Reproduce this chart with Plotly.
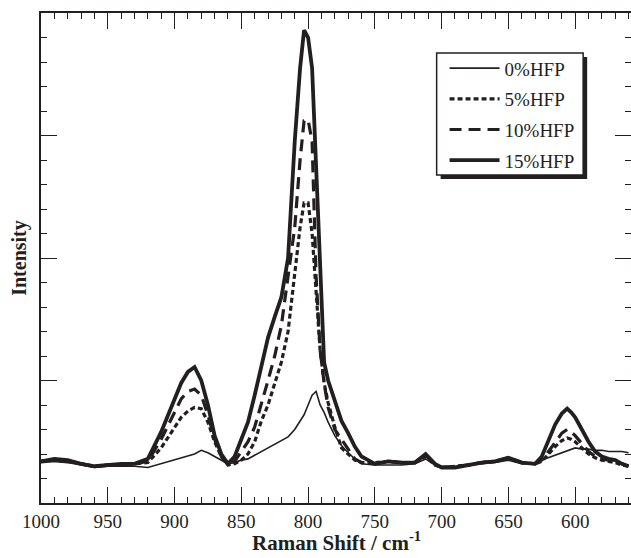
import plotly.graph_objects as go

# Raman shift grid (cm^-1)
shift = [1000, 990, 980, 970, 960, 950, 940, 930, 920, 910, 900, 895, 890, 885, 880,
         875, 870, 865, 860, 855, 850, 845, 840, 835, 830, 825, 820, 815, 810, 806,
         803, 800, 797, 794, 791, 788, 785, 780, 775, 770, 765, 760, 750, 740, 730,
         720, 712, 705, 700, 690, 680, 670, 660, 650, 640, 630, 625, 620, 615, 610,
         606, 603, 600, 595, 590, 585, 580, 575, 570, 565, 560]

hfp0 = [0.33, 0.34, 0.33, 0.31, 0.29, 0.30, 0.30, 0.30, 0.29, 0.32, 0.35, 0.37, 0.38, 0.40, 0.43,
        0.41, 0.38, 0.35, 0.32, 0.33, 0.35, 0.36, 0.39, 0.42, 0.45, 0.48, 0.51, 0.54, 0.60, 0.67,
        0.72, 0.80, 0.88, 0.91, 0.80, 0.74, 0.66, 0.55, 0.47, 0.41, 0.36, 0.32, 0.31, 0.31, 0.31,
        0.32, 0.36, 0.31, 0.29, 0.29, 0.31, 0.32, 0.33, 0.35, 0.32, 0.33, 0.35, 0.37, 0.39, 0.41,
        0.43, 0.44, 0.45, 0.44, 0.44, 0.43, 0.43, 0.42, 0.42, 0.42, 0.41]

hfp5 = [0.34, 0.35, 0.34, 0.32, 0.30, 0.31, 0.31, 0.32, 0.33, 0.45, 0.62, 0.70, 0.75, 0.78, 0.77,
        0.66, 0.50, 0.38, 0.31, 0.32, 0.35, 0.40, 0.50, 0.67, 0.80, 0.98, 1.15, 1.40, 1.90, 2.25,
        2.45, 2.45, 2.20, 1.75, 1.25, 0.98, 0.82, 0.62, 0.45, 0.40, 0.35, 0.33, 0.33, 0.34, 0.33,
        0.33, 0.38, 0.31, 0.29, 0.30, 0.31, 0.33, 0.34, 0.36, 0.33, 0.32, 0.34, 0.40, 0.46, 0.51,
        0.53, 0.52, 0.50, 0.45, 0.40, 0.37, 0.35, 0.34, 0.33, 0.31, 0.30]

hfp10 = [0.34, 0.35, 0.34, 0.32, 0.30, 0.31, 0.31, 0.32, 0.34, 0.52, 0.75, 0.85, 0.91, 0.93, 0.88,
         0.72, 0.52, 0.38, 0.31, 0.34, 0.42, 0.50, 0.62, 0.80, 1.00, 1.20, 1.45, 1.85, 2.25, 2.80,
         3.12, 3.13, 2.95, 1.85, 1.25, 0.98, 0.78, 0.60, 0.52, 0.45, 0.36, 0.33, 0.32, 0.34, 0.33,
         0.33, 0.39, 0.32, 0.29, 0.30, 0.31, 0.33, 0.34, 0.37, 0.33, 0.32, 0.35, 0.42, 0.50, 0.57,
         0.60, 0.58, 0.55, 0.48, 0.42, 0.38, 0.36, 0.35, 0.34, 0.32, 0.30]

hfp15 = [0.34, 0.36, 0.35, 0.32, 0.30, 0.31, 0.32, 0.32, 0.36, 0.58, 0.85, 0.98, 1.07, 1.11, 1.00,
         0.80, 0.55, 0.40, 0.32, 0.38, 0.52, 0.66, 0.88, 1.10, 1.35, 1.52, 1.68, 2.00, 2.95, 3.55,
         3.86, 3.80, 3.55, 2.75, 1.85, 1.15, 1.00, 0.83, 0.67, 0.57, 0.46, 0.38, 0.32, 0.34, 0.33,
         0.33, 0.40, 0.32, 0.29, 0.29, 0.31, 0.33, 0.34, 0.37, 0.33, 0.32, 0.38, 0.52, 0.64, 0.73,
         0.77, 0.74, 0.70, 0.60, 0.50, 0.42, 0.38, 0.36, 0.35, 0.32, 0.30]

series_names = ["0%HFP", "5%HFP", "10%HFP", "15%HFP"]
series_values = [hfp0, hfp5, hfp10, hfp15]
dashes = ["solid", "5px,3px", "12px,7px", "solid"]
widths = [1.6, 3.2, 3.2, 3.8]

INK = "#231f20"
FONT = "Liberation Serif"

fig = go.Figure()
for i, (name, vals) in enumerate(zip(series_names, series_values)):
    fig.add_trace(go.Scatter(
        x=shift, y=vals, mode="lines", name=name, legendgroup=name,
        line=dict(color=INK, width=widths[i], dash=dashes[i]),
    ))

axis_common = dict(
    showline=True, linecolor=INK, linewidth=1.5, mirror="allticks",
    ticks="inside", ticklen=16, tickwidth=1.2, tickcolor=INK,
    showgrid=False, zeroline=False,
)

# legend frame with drop shadow (paper coordinates)
fig.add_shape(type="rect", xref="paper", yref="paper",
              x0=0.6774, x1=0.9257, y0=0.6612, y1=0.9102,
              fillcolor=INK, line=dict(width=0), layer="above")
fig.add_shape(type="rect", xref="paper", yref="paper",
              x0=0.6706, x1=0.9189, y0=0.6694, y1=0.9184,
              fillcolor="white", line=dict(color=INK, width=1.5), layer="above")

# x-axis title
fig.add_annotation(
    text="<b>Raman Shift / cm<sup>-1</sup></b>", xref="paper", yref="paper",
    x=0.5, y=-0.078, xanchor="center", yanchor="middle", showarrow=False,
    borderpad=0, font=dict(family=FONT, size=21, color=INK),
)

fig.update_layout(
    width=633, height=558,
    margin=dict(l=41, r=0, t=13, b=55),
    paper_bgcolor="white", plot_bgcolor="white",
    font=dict(family=FONT, color=INK, size=19),
    showlegend=True,
    legend=dict(
        x=0.684, y=0.926, xanchor="left", yanchor="top",
        bgcolor="rgba(0,0,0,0)", borderwidth=0,
        font=dict(family=FONT, size=19, color=INK),
        tracegroupgap=3, itemwidth=50,
    ),
    xaxis=dict(
        range=[1000, 558.2], dtick=50, tick0=1000,
        minor=dict(dtick=10, ticks="inside", ticklen=6, tickcolor=INK, tickwidth=1),
        tickfont=dict(family=FONT, size=19, color=INK),
        **axis_common,
    ),
    yaxis=dict(
        range=[0, 4], dtick=1, showticklabels=False,
        minor=dict(dtick=0.2, ticks="inside", ticklen=6, tickcolor=INK, tickwidth=1),
        title=dict(text="<b>Intensity</b>",
                   font=dict(family=FONT, size=20, color=INK), standoff=7),
        **axis_common,
    ),
)

fig.write_html(
    "out.html",
    config={"displayModeBar": False},
    post_script="document.body.style.margin='0px';document.body.style.overflow='hidden';",
)
